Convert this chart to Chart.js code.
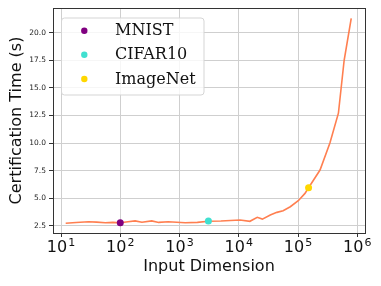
<!DOCTYPE html>
<html>
<head>
<meta charset="utf-8">
<script src="https://cdn.jsdelivr.net/npm/chart.js@4/dist/chart.umd.min.js"></script>
<style>
  html, body { margin: 0; padding: 0; background: #fff; }
  #wrap { width: 381px; height: 286px; }
</style>
</head>
<body>
<div id="wrap"><canvas id="certChart"></canvas></div>
<script>
// Время сертификации в зависимости от размерности входа
const dims  = [12, 18, 29, 40, 56, 75, 100, 135, 178, 232, 340, 445, 645, 1250, 2000, 3072, 5000,
               10500, 15400, 20500, 25000, 34000, 44000, 56000, 74000, 101000, 131000, 150528,
               235000, 345000, 480000, 600000, 790000];
const times = [2.72, 2.79, 2.86, 2.83, 2.77, 2.80, 2.77, 2.86, 2.94, 2.82, 2.94, 2.80, 2.86, 2.77, 2.80, 2.90, 2.93,
               3.02, 2.90, 3.26, 3.10, 3.47, 3.71, 3.86, 4.22, 4.77, 5.43, 5.94,
               7.55, 10.0, 12.7, 17.5, 21.3];

// Датасеты-точки
const markerNames  = ['MNIST', 'CIFAR10', 'ImageNet'];
const markerDims   = [100, 3072, 150528];
const markerTimes  = [2.77, 2.93, 5.94];
const markerColors = ['#800080', '#40e0d0', '#ffd700'];

const xTicks = [1e1, 1e2, 1e3, 1e4, 1e5, 1e6];
const yTicks = [2.5, 5.0, 7.5, 10.0, 12.5, 15.0, 17.5, 20.0];

const datasets = [{
    label: 'curve',
    data: dims.map((d, i) => ({ x: d, y: times[i] })),
    borderColor: '#ff7f50',
    borderWidth: 1.6,
    pointRadius: 0,
    tension: 0,
    fill: false,
    order: 1 // линия под точками
}];
markerNames.forEach((name, i) => {
    datasets.push({
        label: name,
        data: [{ x: markerDims[i], y: markerTimes[i] }],
        showLine: false,
        pointRadius: 3.5,
        pointBackgroundColor: markerColors[i],
        pointBorderColor: markerColors[i],
        pointBorderWidth: 0,
        order: 0
    });
});

// рамка со всех сторон, как у matplotlib
const boxFrame = {
    id: 'boxFrame',
    afterDatasetsDraw(chart) {
        const { ctx, chartArea: a } = chart;
        ctx.save();
        ctx.strokeStyle = '#333';
        ctx.lineWidth = 1;
        ctx.strokeRect(Math.round(a.left) + 0.5, Math.round(a.top) + 0.5,
                       Math.round(a.right - a.left), Math.round(a.bottom - a.top));
        ctx.restore();
    }
};

// Подписи оси X в виде 10^n
const powerLabels = {
    id: 'powerLabels',
    afterDraw(chart) {
        const ctx = chart.ctx;
        const sc = chart.scales.x;
        ctx.save();
        ctx.fillStyle = '#111';
        ctx.textBaseline = 'alphabetic';
        xTicks.forEach(v => {
            const px = sc.getPixelForValue(v);
            const exp = String(Math.round(Math.log10(v)));
            ctx.font = '16px "DejaVu Sans"';
            const wb = ctx.measureText('10').width;
            ctx.font = '11px "DejaVu Sans"';
            const we = ctx.measureText(exp).width;
            const x0 = px - (wb + we + 1) / 2;
            ctx.font = '16px "DejaVu Sans"';
            ctx.textAlign = 'left';
            ctx.fillText('10', x0, 251.5);
            ctx.font = '11px "DejaVu Sans"';
            ctx.fillText(exp, x0 + wb + 1, 245.5);
        });
        ctx.restore();
    }
};

// Легенда внутри области графика
const innerLegend = {
    id: 'innerLegend',
    afterDatasetsDraw(chart) {
        const ctx = chart.ctx;
        ctx.save();
        const x = 61.5, y = 18, w = 142.5, h = 77, r = 3;
        ctx.beginPath();
        ctx.roundRect(x, y, w, h, r);
        ctx.fillStyle = 'rgba(255,255,255,0.8)';
        ctx.fill();
        ctx.strokeStyle = '#d5d5d5';
        ctx.lineWidth = 1;
        ctx.stroke();
        const rows = [30.7, 54.7, 79];
        markerNames.forEach((name, i) => {
            ctx.beginPath();
            ctx.arc(84.3, rows[i], 3.2, 0, Math.PI * 2);
            ctx.fillStyle = markerColors[i];
            ctx.fill();
            ctx.fillStyle = '#111';
            ctx.font = '16px "DejaVu Serif"';
            ctx.textAlign = 'left';
            ctx.textBaseline = 'middle';
            ctx.fillText(name, 115, rows[i] + 0.5);
        });
        ctx.restore();
    }
};

new Chart(document.getElementById('certChart'), {
    type: 'line',
    data: { datasets },
    options: {
        responsive: true,
        maintainAspectRatio: false,
        animation: false,
        layout: { padding: { top: 8, right: 16, left: 0, bottom: 0 } },
        plugins: {
            legend: { display: false },
            tooltip: { enabled: false }
        },
        scales: {
            x: {
                type: 'logarithmic',
                min: Math.pow(10, 0.865),
                max: Math.pow(10, 6.13),
                afterBuildTicks: sc => { sc.ticks = xTicks.map(v => ({ value: v })); },
                afterFit: sc => { sc.height = 53; },
                ticks: { display: false },
                grid: { color: '#cfcfcf', lineWidth: 1, tickLength: 4, tickColor: '#333' },
                border: { color: '#333', width: 1 },
                title: {
                    display: true,
                    text: 'Input Dimension',
                    font: { family: 'DejaVu Sans', size: 16 },
                    color: '#111',
                    padding: { top: 0, bottom: 10 }
                }
            },
            y: {
                min: 1.84,
                max: 22.24,
                afterBuildTicks: sc => { sc.ticks = yTicks.map(v => ({ value: v })); },
                afterFit: sc => { sc.width = 53; },
                ticks: {
                    callback: v => v.toFixed(1),
                    font: { family: 'DejaVu Sans', size: 7.5 },
                    color: '#222',
                    padding: 3
                },
                grid: { color: '#cfcfcf', lineWidth: 1, tickLength: 4, tickColor: '#333' },
                border: { color: '#333', width: 1 },
                title: {
                    display: true,
                    text: 'Certification Time (s)',
                    font: { family: 'DejaVu Sans', size: 16 },
                    color: '#111',
                    padding: { top: 7, bottom: 0 }
                }
            }
        }
    },
    plugins: [boxFrame, innerLegend, powerLabels]
});
</script>
</body>
</html>
